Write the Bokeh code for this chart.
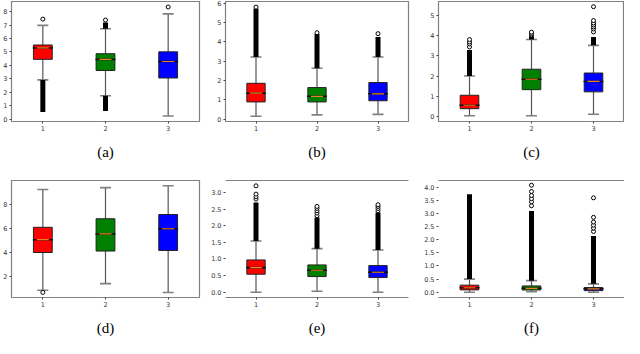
from bokeh.plotting import figure
from bokeh.layouts import gridplot
from bokeh.models import FixedTicker, LinearAxis, Range1d, PrintfTickFormatter
from bokeh.embed import file_html
from bokeh.resources import INLINE

POS = [1, 2, 3]
COLORS = ["#ff0000", "#008000", "#0000ff"]

# ---- panel (a)
a_q1 = [4.45, 3.62, 3.06]
a_med = [5.30, 4.45, 4.29]
a_q3 = [5.52, 4.87, 5.01]
a_lo = [2.92, 1.74, 0.23]
a_hi = [6.98, 6.73, 7.84]
a_band_x = [1, 2, 2]
a_band_lo = [0.53, 0.60, 6.73]
a_band_hi = [2.92, 1.74, 7.20]
a_out_x = [1, 2, 3]
a_out_y = [7.45, 7.38, 8.35]
a_ticks = [0, 1, 2, 3, 4, 5, 6, 7, 8]

# ---- panel (b)
b_q1 = [0.90, 0.90, 0.96]
b_med = [1.35, 1.19, 1.32]
b_q3 = [1.86, 1.64, 1.90]
b_lo = [0.16, 0.23, 0.26]
b_hi = [3.22, 2.64, 3.22]
b_band_x = [1, 2, 3]
b_band_lo = [3.22, 2.64, 3.22]
b_band_hi = [5.70, 4.40, 4.25]
b_out_x = [1, 2, 3]
b_out_y = [5.79, 4.47, 4.42]
b_ticks = [0, 1, 2, 3, 4, 5, 6]

# ---- panel (c)
c_q1 = [0.37, 1.32, 1.21]
c_med = [0.54, 1.84, 1.73]
c_q3 = [1.04, 2.34, 2.15]
c_lo = [0.02, 0.02, 0.09]
c_hi = [2.00, 3.82, 3.53]
c_band_x = [1, 2, 3]
c_band_lo = [2.00, 3.82, 3.53]
c_band_hi = [3.30, 3.98, 3.95]
c_out_x = [1, 1, 1, 1, 2, 2, 2, 3, 3, 3, 3, 3, 3, 3]
c_out_y = [3.45, 3.60, 3.70, 3.82, 4.05, 4.12, 4.19, 4.20, 4.35, 4.45, 4.55, 4.65, 4.77, 5.46]
c_ticks = [0, 1, 2, 3, 4, 5]

# ---- panel (d)
d_q1 = [4.03, 4.15, 4.20]
d_med = [5.09, 5.57, 6.00]
d_q3 = [6.12, 6.83, 7.18]
d_lo = [0.90, 1.45, 0.72]
d_hi = [9.26, 9.41, 9.56]
d_band_x = []
d_band_lo = []
d_band_hi = []
d_out_x = [1]
d_out_y = [0.72]
d_ticks = [2, 4, 6, 8]

# ---- panel (e)
e_q1 = [0.54, 0.47, 0.44]
e_med = [0.74, 0.66, 0.60]
e_q3 = [0.97, 0.82, 0.80]
e_lo = [0.0, 0.03, 0.0]
e_hi = [1.54, 1.31, 1.27]
e_band_x = [1, 2, 3]
e_band_lo = [1.54, 1.31, 1.27]
e_band_hi = [2.70, 2.25, 2.40]
e_out_x = [1, 1, 1, 1, 2, 2, 2, 2, 2, 3, 3, 3, 3]
e_out_y = [2.80, 2.87, 2.95, 3.20, 2.30, 2.38, 2.45, 2.52, 2.58, 2.45, 2.52, 2.58, 2.63]
e_ticks = [0.0, 0.5, 1.0, 1.5, 2.0, 2.5, 3.0]

# ---- panel (f)
f_q1 = [0.09, 0.085, 0.06]
f_med = [0.17, 0.15, 0.13]
f_q3 = [0.27, 0.24, 0.18]
f_lo = [0.0, 0.02, 0.0]
f_hi = [0.50, 0.44, 0.32]
f_band_x = [1, 2, 3]
f_band_lo = [0.50, 0.44, 0.32]
f_band_hi = [3.73, 3.09, 2.14]
f_out_x = [2, 2, 2, 2, 2, 2, 3, 3, 3, 3, 3, 3]
f_out_y = [3.29, 3.44, 3.56, 3.68, 3.83, 4.07, 2.31, 2.44, 2.55, 2.67, 2.85, 3.59]
f_ticks = [0.0, 0.5, 1.0, 1.5, 2.0, 2.5, 3.0, 3.5, 4.0]

LABELS = ["(a)", "(b)", "(c)", "(d)", "(e)", "(f)"]
YRANGES = [(-0.18, 8.76), (-0.11, 6.08), (-0.27, 5.72), (0.30, 10.0), (-0.16, 3.36), (-0.20, 4.25)]

BOX_W = 0.3
H1 = 162
H2 = 176


def panel(label, q1, med, q3, lo, hi, bx, blo, bhi, ox, oy, ticks, yr, fmt,
          h, left, right, top, bottom, full_frame):
    p = figure(width=208, height=h, output_backend="svg", toolbar_location=None,
               x_range=Range1d(0.5, 3.5), y_range=Range1d(*yr),
               min_border_left=left, min_border_right=right,
               min_border_top=top, min_border_bottom=bottom,
               background_fill_color="white", border_fill_color="white")
    p.grid.visible = False
    xax = p.below[0]
    yax = p.left[0]
    for ax in (xax, yax):
        ax.minor_tick_line_color = None
        ax.major_tick_line_color = "#444444"
        ax.major_tick_out = 2
        ax.major_tick_in = 0
        ax.major_label_standoff = 2
        ax.major_label_text_font = "DejaVu Sans"
        ax.major_label_text_font_size = "6.5px"
        ax.major_label_text_color = "#333333"
    xax.ticker = FixedTicker(ticks=POS)
    yax.ticker = FixedTicker(ticks=ticks)
    if fmt:
        yax.formatter = PrintfTickFormatter(format=fmt)
    xax.axis_label = label
    xax.axis_label_text_font = "Liberation Serif"
    xax.axis_label_text_font_style = "normal"
    xax.axis_label_text_font_size = "15px"
    xax.axis_label_text_color = "black"
    xax.axis_label_standoff = 10
    yax.axis_line_color = None
    if full_frame:
        p.outline_line_color = "#808080"
        p.outline_line_width = 1.2
        xax.axis_line_color = None
    else:
        p.outline_line_color = None
        xax.axis_line_color = "#808080"
        xax.axis_line_width = 1.2
        top_ax = LinearAxis(ticker=FixedTicker(ticks=[]),
                            major_tick_line_color=None, minor_tick_line_color=None,
                            major_label_standoff=0, major_tick_out=0,
                            axis_line_color="#808080", axis_line_width=1.2)
        p.add_layout(top_ax, "above")

    # whiskers
    p.segment(x0=POS, y0=q3, x1=POS, y1=hi, line_color="#555555", line_width=1.2)
    p.segment(x0=POS, y0=q1, x1=POS, y1=lo, line_color="#555555", line_width=1.2)
    # caps
    p.scatter(x=POS, y=hi, marker="dash", size=11, line_color="#808080", line_width=1.6)
    p.scatter(x=POS, y=lo, marker="dash", size=11, line_color="#808080", line_width=1.6)
    # dense flier runs
    if bx:
        p.segment(x0=bx, y0=blo, x1=bx, y1=bhi, line_color="black", line_width=5)
    # boxes
    p.vbar(x=POS, bottom=q1, top=q3, width=BOX_W, fill_color=COLORS,
           line_color="#222222", line_width=1)
    # medians
    p.scatter(x=POS, y=med, marker="dash", size=20, line_color="#111111", line_width=1.6)
    p.scatter(x=POS, y=med, marker="dash", size=12, line_color="#f07d1a", line_width=1.2)
    # sparse fliers
    if ox:
        p.scatter(x=ox, y=oy, marker="circle", size=4, fill_color="white",
                  line_color="black", line_width=1)
    return p


pa = panel(LABELS[0], a_q1, a_med, a_q3, a_lo, a_hi, a_band_x, a_band_lo, a_band_hi,
           a_out_x, a_out_y, a_ticks, YRANGES[0], None, H1, 7, 9, 1, 38, True)
pb = panel(LABELS[1], b_q1, b_med, b_q3, b_lo, b_hi, b_band_x, b_band_lo, b_band_hi,
           b_out_x, b_out_y, b_ticks, YRANGES[1], None, H1, 12, 8, 1, 38, True)
pc = panel(LABELS[2], c_q1, c_med, c_q3, c_lo, c_hi, c_band_x, c_band_lo, c_band_hi,
           c_out_x, c_out_y, c_ticks, YRANGES[2], None, H1, 17, 0, 1, 38, True)
pd_ = panel(LABELS[3], d_q1, d_med, d_q3, d_lo, d_hi, d_band_x, d_band_lo, d_band_hi,
            d_out_x, d_out_y, d_ticks, YRANGES[3], None, H2, 7, 9, 15, 38, True)
pe = panel(LABELS[4], e_q1, e_med, e_q3, e_lo, e_hi, e_band_x, e_band_lo, e_band_hi,
           e_out_x, e_out_y, e_ticks, YRANGES[4], "%.1f", H2, 17, 4, 18, 38, False)
pf = panel(LABELS[5], f_q1, f_med, f_q3, f_lo, f_hi, f_band_x, f_band_lo, f_band_hi,
           f_out_x, f_out_y, f_ticks, YRANGES[5], "%.1f", H2, 22, 0, 18, 38, False)

grid = gridplot([[pa, pb, pc], [pd_, pe, pf]], toolbar_location=None)

open("out.html", "w").write(file_html(grid, INLINE))
